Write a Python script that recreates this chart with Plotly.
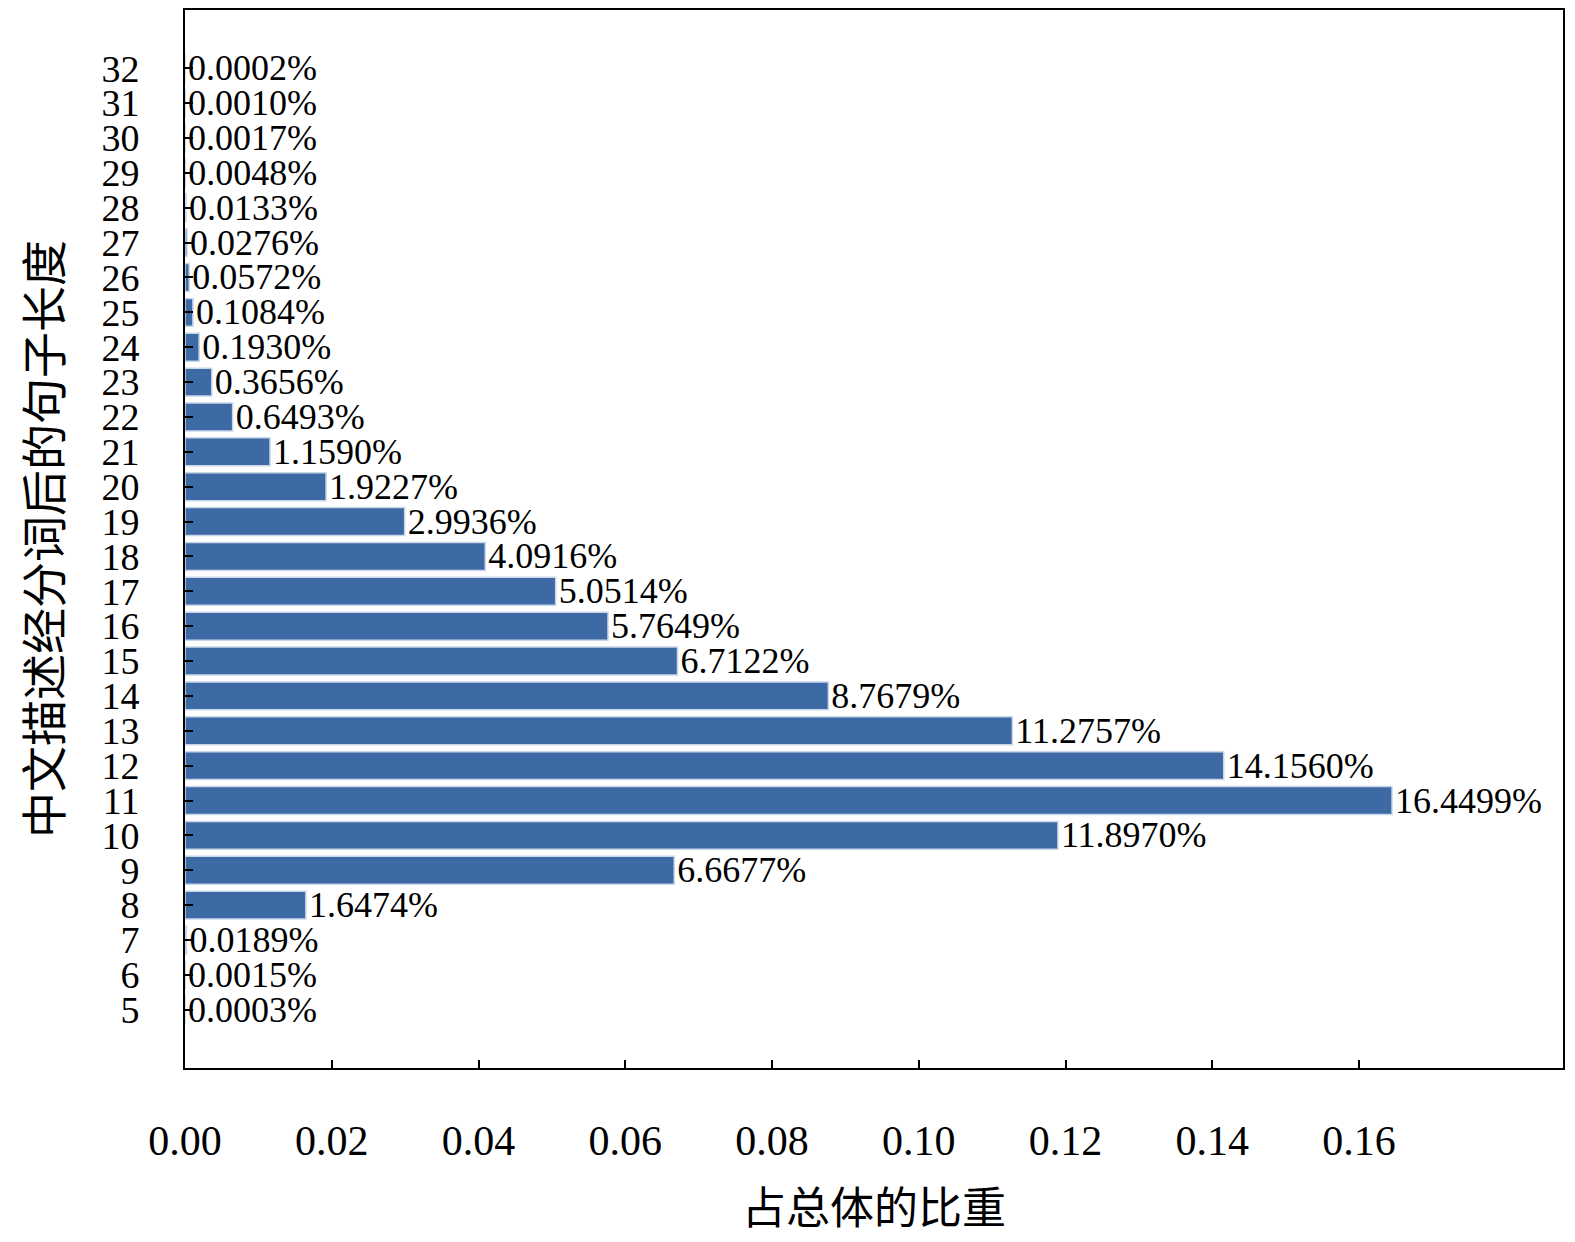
import plotly.graph_objects as go

lengths = list(range(5, 33))
values = [0.0003, 0.0015, 0.0189, 1.6474, 6.6677, 11.8970, 16.4499, 14.1560, 11.2757,
          8.7679, 6.7122, 5.7649, 5.0514, 4.0916, 2.9936, 1.9227, 1.1590, 0.6493,
          0.3656, 0.1930, 0.1084, 0.0572, 0.0276, 0.0133, 0.0048, 0.0017, 0.0010, 0.0002]
fractions = [v / 100 for v in values]
labels = [f"{v:.4f}%" for v in values]
xticks = [0, 0.02, 0.04, 0.06, 0.08, 0.10, 0.12, 0.14, 0.16]

serif = "Liberation Serif, Times New Roman, serif"
cjk = "Noto Sans CJK SC"

fig = go.Figure(go.Bar(
    x=fractions, y=lengths, orientation="h", width=0.8,
    marker=dict(color="#3d6aa5", line=dict(color="#c9d6ea", width=1.5)),
    text=labels, textposition="outside", cliponaxis=False, constraintext="none",
    textfont=dict(family=serif, size=36, color="black"),
))
fig.update_layout(
    width=1575, height=1242, plot_bgcolor="white", paper_bgcolor="white",
    margin=dict(l=177, r=20, t=0, b=182), showlegend=False,
    xaxis=dict(range=[0, 0.1878], tickvals=xticks, ticktext=[f"{t:.2f}" for t in xticks],
               ticks="inside", ticklen=8, tickwidth=2, tickcolor="black",
               showline=True, linecolor="black", linewidth=2, mirror=True, showgrid=False,
               zeroline=False, ticklabelstandoff=35,
               tickfont=dict(family=serif, size=42, color="black"),
               title=dict(text="占总体的比重", font=dict(family=cjk, size=44, color="black"), standoff=30)),
    yaxis=dict(range=[3.33, 33.67], tickvals=lengths, ticktext=[str(v) for v in lengths],
               ticks="inside", ticklen=8, tickwidth=2, tickcolor="black",
               showline=True, linecolor="black", linewidth=2, mirror=True, showgrid=False,
               zeroline=False, ticklabelstandoff=36,
               tickfont=dict(family=serif, size=38, color="black"),
               title=dict(text="中文描述经分词后的句子长度", font=dict(family=cjk, size=46, color="black"), standoff=25)),
)
fig.write_html("out.html")
